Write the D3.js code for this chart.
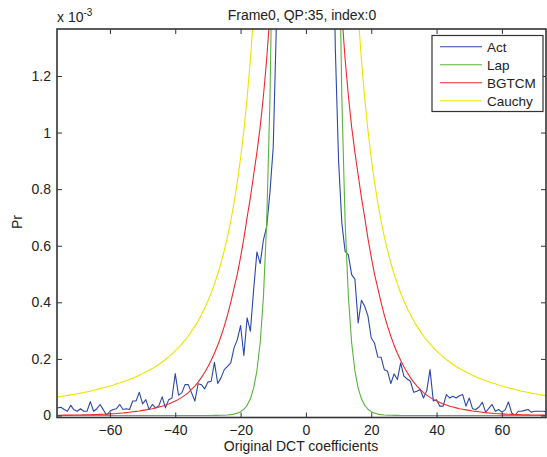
<!DOCTYPE html>
<html>
<head>
<meta charset="utf-8">
<script src="https://cdn.jsdelivr.net/npm/d3@7"></script>
<style>
html,body{margin:0;padding:0;background:#fff;}
svg{display:block;font-family:"Liberation Sans",Arial,Helvetica,sans-serif;}
</style>
</head>
<body>
<svg id="chart" width="547" height="457"></svg>
<script>
// Bins: integer DCT coefficient values from -76 to 74
const coeffs = d3.range(-76, 75);

// Probabilities in units of 1e-3 (groups of 10 starting at -76)
const actValues = [
  0.027,0.029,0.021,0.015,0.036,0.020,0.015,0.024,0.015,0.015,
  0.049,0.015,0.024,0.039,0.020,0.000,0.015,0.021,0.024,0.039,
  0.021,0.024,0.021,0.051,0.051,0.082,0.041,0.056,0.021,0.039,
  0.027,0.035,0.066,0.027,0.056,0.062,0.148,0.072,0.080,0.109,
  0.109,0.080,0.051,0.112,0.109,0.094,0.118,0.121,0.188,0.113,
  0.133,0.162,0.174,0.186,0.239,0.268,0.318,0.212,0.345,0.298,
  0.445,0.578,0.537,0.621,0.668,0.790,0.950,1.40,2.1,3.0,
  4.2,6.0,9.0,14,25,55,200,55,25,14,
  9.0,6.0,4.2,3.0,2.0,1.30,0.90,0.68,0.58,0.568,
  0.498,0.482,0.327,0.407,0.386,0.351,0.274,0.256,0.207,0.206,
  0.162,0.156,0.113,0.147,0.127,0.186,0.139,0.129,0.121,0.082,
  0.086,0.092,0.062,0.088,0.162,0.051,0.056,0.033,0.033,0.074,
  0.062,0.068,0.062,0.070,0.074,0.033,0.062,0.024,0.021,0.030,
  0.047,0.012,0.025,0.039,0.015,0.021,0.012,0.020,0.048,0.009,
  0.000,0.015,0.015,0.018,0.021,0.012,0.015,0.015,0.015,0.015,
  0.006
];
const lapValues = [
  0,0,0,0,0,0,0,0,0,0,
  0,0,0,0,0,0,0,0,0,0,
  0,0,0,0,0,0,0,0,0,0,
  0,0,0,0,0,0,0,0,0,0,
  0,0,0,0,0,0,0.0001,0.0002,0.0003,0.0004,
  0.0007,0.0011,0.0019,0.003,0.005,0.0083,0.0135,0.022,0.036,0.059,
  0.097,0.158,0.257,0.42,0.686,1.12,1.83,2.97,4.85,7.9,
  12.9,21,34.5,56,92,150,245,150,92,56,
  34.5,21,12.9,7.9,4.85,2.97,1.83,1.12,0.686,0.42,
  0.257,0.158,0.097,0.059,0.036,0.022,0.0135,0.0083,0.005,0.003,
  0.0019,0.0011,0.0007,0.0004,0.0003,0.0002,0.0001,0,0,0,
  0,0,0,0,0,0,0,0,0,0,
  0,0,0,0,0,0,0,0,0,0,
  0,0,0,0,0,0,0,0,0,0,
  0,0,0,0,0,0,0,0,0,0,
  0
];
const bgtcmValues = [
  0.001,0.001,0.0012,0.0013,0.0014,0.0016,0.0018,0.002,0.0023,0.0026,
  0.0029,0.0032,0.0036,0.004,0.0045,0.005,0.0056,0.0063,0.007,0.008,
  0.009,0.010,0.0115,0.013,0.0145,0.016,0.018,0.020,0.022,0.024,
  0.027,0.030,0.033,0.037,0.041,0.046,0.051,0.057,0.064,0.072,
  0.081,0.092,0.104,0.118,0.134,0.152,0.172,0.195,0.22,0.248,
  0.28,0.315,0.355,0.40,0.45,0.50,0.56,0.625,0.70,0.77,
  0.85,0.93,1.02,1.13,1.26,1.42,1.6,1.9,2.3,2.8,
  3.5,4.5,6.2,9,15,30,60,30,15,9,
  6.2,4.5,3.5,2.8,2.3,1.9,1.6,1.42,1.26,1.13,
  1.02,0.93,0.85,0.77,0.70,0.625,0.56,0.50,0.45,0.40,
  0.355,0.315,0.28,0.248,0.22,0.195,0.172,0.152,0.134,0.118,
  0.104,0.092,0.081,0.072,0.064,0.057,0.051,0.046,0.041,0.037,
  0.033,0.030,0.027,0.024,0.022,0.020,0.018,0.016,0.0145,0.013,
  0.0115,0.010,0.009,0.008,0.007,0.0063,0.0056,0.005,0.0045,0.004,
  0.0036,0.0032,0.0029,0.0026,0.0023,0.002,0.0018,0.0016,0.0014,0.0013,
  0.0012
];
const cauchyValues = [
  0.065,0.067,0.069,0.071,0.073,0.075,0.077,0.079,0.081,0.084,
  0.086,0.089,0.092,0.095,0.098,0.101,0.104,0.107,0.112,0.115,
  0.119,0.123,0.127,0.132,0.137,0.142,0.148,0.154,0.160,0.166,
  0.173,0.181,0.189,0.198,0.208,0.218,0.228,0.240,0.253,0.266,
  0.281,0.298,0.315,0.335,0.356,0.379,0.405,0.433,0.465,0.500,
  0.539,0.583,0.632,0.688,0.752,0.825,0.910,1.007,1.122,1.257,
  1.419,1.613,1.85,2.14,2.51,2.98,3.60,4.43,5.59,7.26,
  9.79,13.9,21.1,35.4,68.9,158.7,280,158.7,68.9,35.4,
  21.1,13.9,9.79,7.26,5.59,4.43,3.60,2.98,2.51,2.14,
  1.85,1.613,1.419,1.257,1.122,1.007,0.910,0.825,0.752,0.688,
  0.632,0.583,0.539,0.500,0.465,0.433,0.405,0.379,0.356,0.335,
  0.315,0.298,0.281,0.266,0.253,0.240,0.228,0.218,0.208,0.198,
  0.189,0.181,0.173,0.166,0.160,0.154,0.148,0.142,0.137,0.132,
  0.127,0.123,0.119,0.115,0.112,0.107,0.104,0.101,0.098,0.095,
  0.092,0.089,0.086,0.084,0.081,0.079,0.077,0.075,0.073,0.071,
  0.069
];

const seriesNames = ["Act", "Lap", "BGTCM", "Cauchy"];
const seriesColors = ["#2a48a6", "#56b43a", "#ec2a2c", "#ece200"];
const xTicks = [-60, -40, -20, 0, 20, 40, 60];
const yTicks = [0, 0.2, 0.4, 0.6, 0.8, 1, 1.2];
const titleText = "Frame0, QP:35, index:0";
const xLabel = "Original DCT coefficients";
const yLabel = "Pr";

const L = 57, R = 546, T = 29, B = 415.5, BAxis = 417.5;
const x = d3.scaleLinear().domain([-76.2, 73.5]).range([L, R]);
const y = d3.scaleLinear().domain([0, 1.366]).range([B, T]);

const svg = d3.select("#chart");
svg.append("defs").append("clipPath").attr("id", "clip")
  .append("rect").attr("x", L).attr("y", T).attr("width", R - L).attr("height", BAxis - T);

const allSeries = [actValues, lapValues, bgtcmValues, cauchyValues];
const line = d3.line().x((d, i) => x(coeffs[i])).y(d => y(d));
const plot = svg.append("g").attr("clip-path", "url(#clip)");
allSeries.forEach((vals, k) => {
  plot.append("path").datum(vals)
    .attr("d", line)
    .attr("fill", "none")
    .attr("stroke", seriesColors[k])
    .attr("stroke-width", 1.1)
    .attr("stroke-linejoin", "round");
});

// Axes (MATLAB-style box with inward ticks)
const fmt = v => (v < 0 ? "\u2212" + Math.abs(v) : String(v));
const axisColor = "#333";
const tickLen = 5;
const axB = svg.append("g").attr("transform", `translate(0,${BAxis})`)
  .call(d3.axisBottom(x).tickValues(xTicks).tickFormat(fmt).tickSizeInner(-tickLen).tickSizeOuter(0).tickPadding(8));
const axT = svg.append("g").attr("transform", `translate(0,${T})`)
  .call(d3.axisTop(x).tickValues(xTicks).tickFormat("").tickSizeInner(-tickLen).tickSizeOuter(0));
const axL = svg.append("g").attr("transform", `translate(${L},0)`)
  .call(d3.axisLeft(y).tickValues(yTicks).tickFormat(d3.format("")).tickSizeInner(-tickLen).tickSizeOuter(0).tickPadding(6));
const axR = svg.append("g").attr("transform", `translate(${R},0)`)
  .call(d3.axisRight(y).tickValues(yTicks).tickFormat("").tickSizeInner(-tickLen).tickSizeOuter(0));
[axB, axT, axL, axR].forEach(g => {
  g.select(".domain").remove();
  g.selectAll(".tick line").attr("stroke", axisColor).attr("stroke-width", 1);
  g.selectAll(".tick text").attr("fill", "#222").style("font-size", "14px")
    .style("font-family", '"Liberation Sans",Arial,sans-serif');
});
svg.append("rect").attr("x", L).attr("y", T).attr("width", R - L).attr("height", BAxis - T)
  .attr("fill", "none").attr("stroke", axisColor).attr("stroke-width", 1.6);

// Title and labels
svg.append("text").attr("x", 302).attr("y", 20).attr("text-anchor", "middle")
  .style("font-size", "14px").attr("fill", "#222").text(titleText);
svg.append("text").attr("x", 301).attr("y", 451).attr("text-anchor", "middle")
  .style("font-size", "14px").attr("fill", "#222").text(xLabel);
svg.append("text").attr("transform", "translate(22,222) rotate(-90)").attr("text-anchor", "middle")
  .style("font-size", "14px").attr("fill", "#222").text(yLabel);
const expo = svg.append("text").attr("x", 57).attr("y", 22).style("font-size", "14px").attr("fill", "#222");
expo.append("tspan").text("x 10");
expo.append("tspan").attr("dy", -6).style("font-size", "10px").text("-3");

// Legend
const lg = svg.append("g");
lg.append("rect").attr("x", 432).attr("y", 35.5).attr("width", 111).attr("height", 76)
  .attr("fill", "#fff").attr("stroke", axisColor).attr("stroke-width", 1.2);
seriesNames.forEach((name, k) => {
  const yy = 46.7 + k * 18;
  lg.append("line").attr("x1", 440).attr("x2", 482).attr("y1", yy).attr("y2", yy)
    .attr("stroke", seriesColors[k]).attr("stroke-width", 1.1);
  lg.append("text").attr("x", 487).attr("y", yy + 5).style("font-size", "13.5px")
    .attr("fill", "#222").text(name);
});
</script>
</body>
</html>
